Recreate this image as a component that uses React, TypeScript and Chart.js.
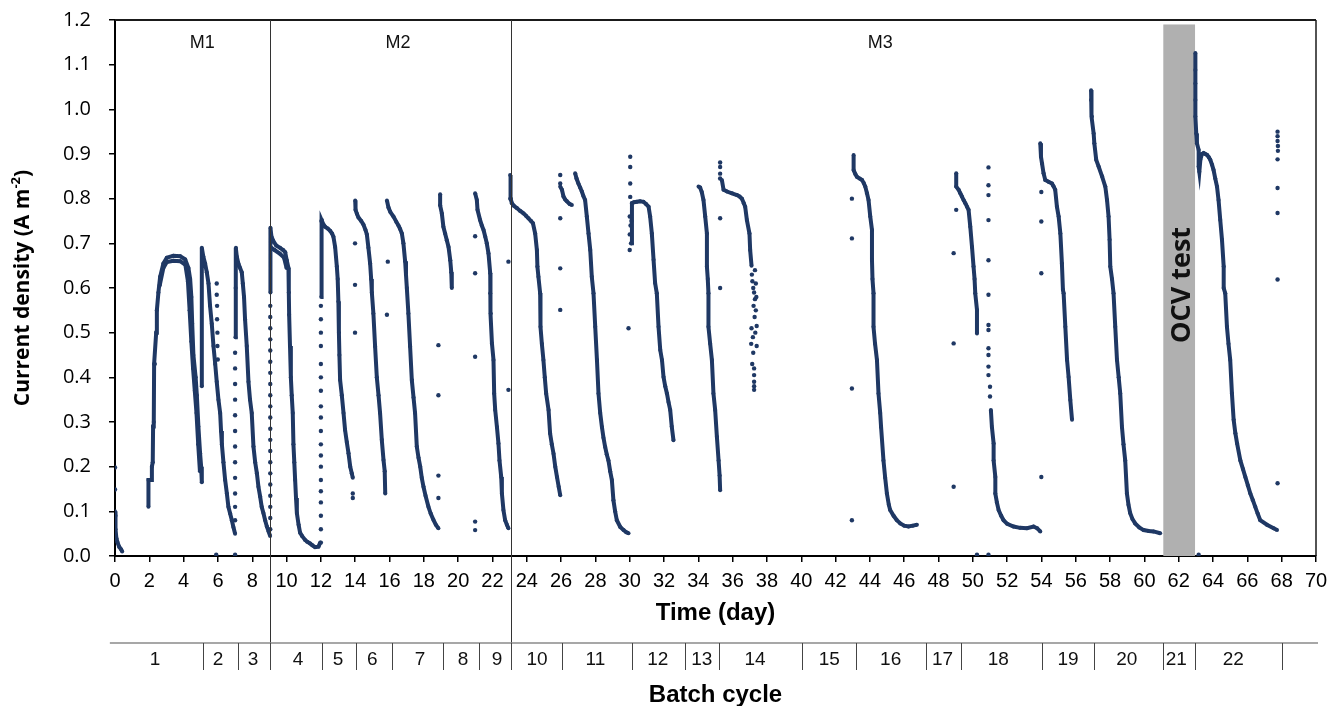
import React, { useEffect, useRef } from 'react';
import { Chart, registerables } from 'chart.js';

Chart.register(...registerables);

type P = [number, number];

// ---------- axis / annotation values ----------
const xMin = 0;
const xMax = 70;
const xStep = 2;
const yMin = 0;
const yMax = 1.2;
const yStep = 0.1;

const phaseLines = [9.05, 23.1];
const phaseLabels = ['M1', 'M2', 'M3'];
const phaseLabelPos = [5.08, 16.5, 44.6];

const ocvRange = [61.1, 62.95];
const ocvTop = 1.19;
const ocvText = 'OCV test';

const batchBounds = [5.14, 7.15, 9.05, 12.07, 14.06, 16.15, 19.13, 21.2, 23.1, 26.04, 30.13, 33.22, 35.22, 40.07, 43.19, 47.25, 49.3, 54.03, 57.08, 61.06, 62.95, 68.02];
const batchLabels = ['1', '2', '3', '4', '5', '6', '7', '8', '9', '10', '11', '12', '13', '14', '15', '16', '17', '18', '19', '20', '21', '22'];
const batchLabelPos = [2.34, 6.01, 8.05, 10.67, 13.0, 14.99, 17.78, 20.29, 22.27, 24.6, 28.0, 31.64, 34.2, 37.3, 41.63, 45.21, 48.23, 51.48, 55.55, 58.97, 61.86, 65.18];

const xTitle = 'Time (day)';
const batchTitle = 'Batch cycle';
const yTitleMain = 'Current density (A m';
const yTitleSup = '-2';
const yTitleEnd = ')';

// ---------- current density traces (day, A m-2) ----------
const cycle00: P[] = [[0.0, 0.1], [0.03, 0.06], [0.08, 0.04], [0.15, 0.03], [0.25, 0.02], [0.35, 0.015], [0.42, 0.01]];
const cycle00Dots: P[] = [[0.0, 0.198], [0.0, 0.149], [0.02, 0.09]];

const cycle01: P[] = [[1.95, 0.11], [1.95, 0.17], [2.1, 0.17], [2.15, 0.2], [2.2, 0.21], [2.22, 0.29], [2.26, 0.3], [2.28, 0.43], [2.33, 0.43], [2.4, 0.5], [2.44, 0.55], [2.53, 0.59], [2.63, 0.625], [2.82, 0.655], [3.02, 0.668], [3.4, 0.672], [3.8, 0.671], [4.09, 0.664], [4.28, 0.645], [4.38, 0.62], [4.45, 0.58], [4.5, 0.52], [4.57, 0.45], [4.7, 0.4], [4.77, 0.36], [4.86, 0.29], [4.96, 0.23], [5.02, 0.2], [5.06, 0.165]];
const cycle01b: P[] = [[2.6, 0.605], [2.82, 0.645], [3.02, 0.658], [3.4, 0.661], [3.8, 0.66], [4.1, 0.652], [4.25, 0.615], [4.35, 0.55], [4.45, 0.48], [4.55, 0.42], [4.65, 0.37], [4.75, 0.32], [4.85, 0.25], [4.95, 0.19]];

const cycle02: P[] = [[5.06, 0.38], [5.06, 0.69], [5.15, 0.67], [5.25, 0.655], [5.35, 0.635], [5.45, 0.61], [5.54, 0.56], [5.64, 0.52], [5.74, 0.47], [5.84, 0.43], [5.93, 0.39], [6.03, 0.35], [6.13, 0.32], [6.18, 0.28], [6.23, 0.25], [6.32, 0.21], [6.42, 0.17], [6.52, 0.14], [6.61, 0.11], [6.71, 0.095], [6.81, 0.08], [6.9, 0.065], [7.0, 0.05]];
const cycle02Dots: P[] = [[5.93, 0.61], [5.93, 0.585], [5.95, 0.56], [5.95, 0.53], [5.97, 0.5], [5.97, 0.47], [5.99, 0.44], [5.9, 0.003], [7.0, 0.003]];

const cycle03Dots: P[] = [[7.0, 0.08], [7.0, 0.11], [7.0, 0.14], [7.0, 0.175], [7.0, 0.21], [7.0, 0.245], [7.0, 0.28], [7.0, 0.315], [7.0, 0.35], [7.0, 0.385], [7.0, 0.42], [7.0, 0.455]];
const cycle03: P[] = [[7.02, 0.49], [7.03, 0.6], [7.05, 0.69], [7.1, 0.67], [7.19, 0.655], [7.29, 0.645], [7.39, 0.635], [7.45, 0.61], [7.52, 0.58], [7.58, 0.53], [7.68, 0.47], [7.78, 0.39], [7.87, 0.35], [7.97, 0.32], [8.07, 0.245], [8.17, 0.21], [8.27, 0.185], [8.36, 0.155], [8.46, 0.133], [8.55, 0.11], [8.65, 0.096], [8.75, 0.08], [8.85, 0.066], [8.95, 0.055], [9.04, 0.045]];

const cycle04Dots: P[] = [[9.05, 0.06], [9.05, 0.085], [9.05, 0.11], [9.05, 0.135], [9.05, 0.16], [9.05, 0.185], [9.05, 0.21], [9.05, 0.235], [9.05, 0.26], [9.05, 0.285], [9.05, 0.31], [9.05, 0.335], [9.05, 0.36], [9.05, 0.385], [9.05, 0.41], [9.05, 0.435], [9.05, 0.46], [9.05, 0.485], [9.05, 0.51], [9.05, 0.535], [9.05, 0.56]];
const cycle04: P[] = [[9.06, 0.59], [9.06, 0.735], [9.12, 0.715], [9.23, 0.705], [9.4, 0.695], [9.62, 0.69], [9.8, 0.685], [9.92, 0.68], [10.01, 0.662], [10.11, 0.645], [10.13, 0.59], [10.15, 0.54], [10.2, 0.47], [10.25, 0.4], [10.3, 0.36], [10.36, 0.32], [10.4, 0.25], [10.45, 0.21], [10.5, 0.17], [10.55, 0.13], [10.6, 0.096], [10.7, 0.07], [10.79, 0.052], [10.9, 0.045], [11.08, 0.036], [11.2, 0.032], [11.37, 0.028], [11.5, 0.024], [11.66, 0.02], [11.86, 0.021], [11.96, 0.03]];
const cycle04b: P[] = [[9.1, 0.69], [9.3, 0.685], [9.6, 0.677], [9.85, 0.668], [10.0, 0.645]];

const cycle05Dots: P[] = [[12.0, 0.03], [12.0, 0.06], [12.0, 0.09], [12.0, 0.12], [12.0, 0.145], [12.0, 0.17], [12.0, 0.2], [12.0, 0.225], [12.0, 0.25], [12.0, 0.28], [12.0, 0.31], [12.0, 0.335], [12.0, 0.37], [12.0, 0.4], [12.0, 0.43], [12.0, 0.47], [12.0, 0.5], [12.0, 0.53], [12.0, 0.56], [13.86, 0.14], [13.86, 0.13]];
const cycle05: P[] = [[12.02, 0.58], [12.02, 0.75], [12.06, 0.752], [12.15, 0.742], [12.25, 0.737], [12.4, 0.733], [12.54, 0.728], [12.65, 0.722], [12.73, 0.715], [12.83, 0.692], [12.93, 0.648], [12.98, 0.62], [13.02, 0.57], [13.05, 0.5], [13.08, 0.45], [13.12, 0.394], [13.22, 0.36], [13.32, 0.32], [13.41, 0.282], [13.51, 0.255], [13.61, 0.23], [13.71, 0.2], [13.8, 0.185], [13.86, 0.175]];

const cycle06Dots: P[] = [[13.99, 0.7], [13.99, 0.607], [13.99, 0.5], [15.85, 0.54]];
const cycle06: P[] = [[14.0, 0.796], [14.02, 0.775], [14.1, 0.766], [14.19, 0.758], [14.35, 0.75], [14.48, 0.742], [14.6, 0.73], [14.68, 0.72], [14.77, 0.69], [14.87, 0.655], [14.93, 0.62], [14.97, 0.59], [15.06, 0.543], [15.16, 0.469], [15.26, 0.4], [15.36, 0.36], [15.45, 0.32], [15.55, 0.26], [15.65, 0.215], [15.72, 0.19], [15.75, 0.14]];

const cycle07Dots: P[] = [[15.9, 0.659]];
const cycle07: P[] = [[15.85, 0.796], [15.94, 0.78], [16.05, 0.77], [16.23, 0.76], [16.4, 0.748], [16.52, 0.74], [16.62, 0.732], [16.72, 0.722], [16.81, 0.7], [16.91, 0.66], [16.96, 0.63], [17.01, 0.6], [17.1, 0.543], [17.2, 0.469], [17.3, 0.394], [17.4, 0.355], [17.49, 0.32], [17.59, 0.245], [17.69, 0.22], [17.79, 0.2], [17.88, 0.175], [17.98, 0.155], [18.1, 0.135], [18.27, 0.11], [18.4, 0.095], [18.56, 0.081], [18.7, 0.07], [18.85, 0.062]];

const cycle08Dots: P[] = [[18.85, 0.472], [18.85, 0.36], [18.85, 0.18], [18.85, 0.13]];
const cycle08: P[] = [[18.95, 0.81], [18.95, 0.785], [19.05, 0.767], [19.14, 0.737], [19.24, 0.722], [19.34, 0.707], [19.44, 0.692], [19.54, 0.662], [19.6, 0.635], [19.63, 0.6]];

const cycle09Dots: P[] = [[20.99, 0.716], [20.99, 0.633], [20.99, 0.446], [20.99, 0.077], [20.99, 0.058], [22.93, 0.659], [22.93, 0.372]];
const cycle09: P[] = [[20.99, 0.812], [21.09, 0.797], [21.13, 0.775], [21.28, 0.752], [21.38, 0.74], [21.48, 0.73], [21.58, 0.715], [21.67, 0.7], [21.77, 0.677], [21.87, 0.633], [21.87, 0.588], [21.9, 0.543], [21.97, 0.476], [22.06, 0.439], [22.1, 0.364], [22.16, 0.327], [22.26, 0.289], [22.35, 0.252], [22.41, 0.214], [22.51, 0.177], [22.55, 0.14], [22.64, 0.103], [22.74, 0.08], [22.84, 0.07], [22.93, 0.062]];

const cycle10: P[] = [[23.03, 0.8], [23.03, 0.853], [23.08, 0.8], [23.13, 0.79], [23.25, 0.784], [23.42, 0.779], [23.6, 0.773], [23.81, 0.767], [23.95, 0.762], [24.1, 0.756], [24.25, 0.75], [24.36, 0.745], [24.49, 0.722], [24.59, 0.685], [24.62, 0.648], [24.68, 0.625], [24.78, 0.588], [24.8, 0.513], [24.88, 0.475], [24.97, 0.439], [25.05, 0.4], [25.13, 0.364], [25.27, 0.327], [25.36, 0.274], [25.46, 0.25], [25.56, 0.229], [25.66, 0.2], [25.76, 0.177], [25.86, 0.155], [25.95, 0.136]];

const cycle11Dots: P[] = [[25.95, 0.853], [25.95, 0.834], [25.95, 0.756], [25.95, 0.644], [25.95, 0.551]];
const cycle11a: P[] = [[25.95, 0.827], [26.05, 0.82], [26.14, 0.805], [26.24, 0.798], [26.34, 0.794], [26.5, 0.788], [26.63, 0.786]];
const cycle11: P[] = [[26.82, 0.857], [26.9, 0.845], [27.01, 0.834], [27.11, 0.825], [27.21, 0.816], [27.3, 0.806], [27.4, 0.797], [27.5, 0.76], [27.6, 0.722], [27.7, 0.685], [27.79, 0.625], [27.89, 0.588], [27.99, 0.513], [28.09, 0.439], [28.18, 0.364], [28.28, 0.32], [28.38, 0.289], [28.47, 0.265], [28.57, 0.244], [28.66, 0.228], [28.76, 0.214], [28.86, 0.19], [28.96, 0.17], [29.05, 0.125], [29.15, 0.1], [29.25, 0.08], [29.45, 0.065], [29.64, 0.058], [29.8, 0.053], [29.93, 0.051]];

const cycle12Dots: P[] = [[30.03, 0.894], [30.03, 0.871], [30.03, 0.834], [30.03, 0.804], [29.93, 0.51], [30.0, 0.76], [30.05, 0.74], [30.0, 0.72], [30.08, 0.7], [30.0, 0.685], [30.1, 0.75]];
const cycle12: P[] = [[30.1, 0.7], [30.13, 0.79], [30.25, 0.792], [30.42, 0.793], [30.6, 0.794], [30.8, 0.793], [30.95, 0.788], [31.1, 0.782], [31.19, 0.76], [31.29, 0.722], [31.39, 0.663], [31.48, 0.611], [31.58, 0.588], [31.68, 0.513], [31.78, 0.461], [31.88, 0.439], [31.97, 0.401], [32.07, 0.38], [32.17, 0.364], [32.26, 0.345], [32.36, 0.327], [32.45, 0.29], [32.55, 0.259]];

const cycle13: P[] = [[34.01, 0.827], [34.1, 0.825], [34.2, 0.815], [34.3, 0.797], [34.4, 0.76], [34.5, 0.722], [34.5, 0.648], [34.55, 0.62], [34.59, 0.588], [34.59, 0.513], [34.69, 0.475], [34.79, 0.439], [34.88, 0.364], [34.98, 0.327], [35.08, 0.267], [35.18, 0.214], [35.24, 0.18], [35.27, 0.147]];

const cycle14Dots: P[] = [[35.27, 0.881], [35.27, 0.871], [35.27, 0.856], [35.27, 0.845], [35.27, 0.756], [35.27, 0.6], [37.12, 0.63], [37.15, 0.615], [37.2, 0.6], [37.25, 0.59], [37.3, 0.575], [37.22, 0.56], [37.35, 0.55], [37.28, 0.535], [37.4, 0.515], [37.32, 0.5], [37.18, 0.49], [37.4, 0.47], [37.2, 0.455], [37.08, 0.475], [37.14, 0.43], [37.25, 0.42], [37.25, 0.405], [37.25, 0.39], [37.25, 0.38], [37.25, 0.372], [37.1, 0.51], [37.35, 0.61], [37.38, 0.58], [37.3, 0.64]];
const cycle14: P[] = [[35.37, 0.842], [35.47, 0.82], [35.67, 0.816], [35.96, 0.812], [36.25, 0.808], [36.4, 0.805], [36.54, 0.8], [36.65, 0.79], [36.73, 0.782], [36.83, 0.752], [36.98, 0.722], [37.02, 0.685], [37.1, 0.65]];

const cycle16Dots: P[] = [[42.95, 0.8], [42.95, 0.711], [42.95, 0.375], [42.95, 0.08]];
const cycle16: P[] = [[43.05, 0.898], [43.05, 0.864], [43.15, 0.855], [43.24, 0.849], [43.4, 0.845], [43.54, 0.842], [43.64, 0.835], [43.73, 0.827], [43.83, 0.812], [43.92, 0.797], [44.02, 0.76], [44.12, 0.73], [44.12, 0.663], [44.15, 0.62], [44.21, 0.588], [44.21, 0.513], [44.3, 0.475], [44.41, 0.439], [44.5, 0.364], [44.6, 0.32], [44.65, 0.289], [44.79, 0.214], [44.89, 0.175], [44.99, 0.14], [45.1, 0.115], [45.18, 0.103], [45.38, 0.09], [45.57, 0.08], [45.77, 0.073], [46.0, 0.068], [46.25, 0.066], [46.5, 0.068], [46.74, 0.07]];

const cycle17Dots: P[] = [[48.88, 0.678], [48.88, 0.476], [48.88, 0.155]];

const cycle18: P[] = [[49.03, 0.857], [49.03, 0.827], [49.17, 0.82], [49.27, 0.812], [49.36, 0.805], [49.46, 0.797], [49.56, 0.79], [49.66, 0.782], [49.75, 0.775], [49.85, 0.737], [49.95, 0.692], [50.04, 0.648], [50.1, 0.62], [50.14, 0.588], [50.24, 0.551], [50.24, 0.498]];
const cycle18Dots: P[] = [[49.03, 0.775], [50.24, 0.003], [50.91, 0.003], [50.91, 0.87], [50.91, 0.83], [50.91, 0.808], [50.91, 0.752], [50.91, 0.662], [50.91, 0.585], [50.91, 0.517], [50.91, 0.506], [50.91, 0.465], [50.91, 0.45], [50.91, 0.424], [50.91, 0.405], [51.0, 0.379], [51.0, 0.357]];
const cycle18b: P[] = [[51.05, 0.327], [51.11, 0.289], [51.21, 0.252], [51.21, 0.214], [51.31, 0.177], [51.31, 0.14], [51.4, 0.12], [51.5, 0.103], [51.65, 0.09], [51.79, 0.08], [52.0, 0.072], [52.37, 0.066], [52.75, 0.063], [53.15, 0.062], [53.54, 0.066], [53.75, 0.062], [53.93, 0.055]];

const cycle19Dots: P[] = [[53.99, 0.815], [53.99, 0.749], [53.99, 0.633], [53.99, 0.177]];
const cycle19: P[] = [[53.93, 0.924], [53.97, 0.894], [54.03, 0.879], [54.12, 0.857], [54.22, 0.842], [54.41, 0.838], [54.61, 0.834], [54.7, 0.828], [54.8, 0.82], [54.9, 0.782], [55.0, 0.76], [55.1, 0.722], [55.19, 0.655], [55.25, 0.596], [55.29, 0.588], [55.39, 0.513], [55.49, 0.439], [55.58, 0.401], [55.68, 0.349], [55.78, 0.305]];

const cycle20: P[] = [[56.89, 1.043], [56.89, 1.021], [56.94, 0.984], [57.04, 0.946], [57.08, 0.924], [57.19, 0.887], [57.33, 0.872], [57.53, 0.85], [57.72, 0.827], [57.82, 0.797], [57.91, 0.76], [57.97, 0.708], [58.01, 0.648], [58.11, 0.62], [58.2, 0.588], [58.3, 0.513], [58.4, 0.439], [58.5, 0.4], [58.59, 0.364], [58.69, 0.289], [58.78, 0.25], [58.88, 0.214], [58.98, 0.14], [59.07, 0.115], [59.17, 0.096], [59.3, 0.083], [59.46, 0.073], [59.7, 0.064], [59.95, 0.058], [60.25, 0.056], [60.53, 0.055], [60.92, 0.051]];

const cycle22Dots: P[] = [[63.16, 0.003], [67.76, 0.95], [67.76, 0.94], [67.76, 0.929], [67.78, 0.918], [67.78, 0.907], [67.76, 0.888], [67.76, 0.824], [67.76, 0.768], [67.76, 0.619], [67.76, 0.163]];
const cycle22: P[] = [[62.97, 1.126], [62.97, 1.088], [62.97, 1.058], [62.97, 1.021], [62.97, 0.984], [63.02, 0.946], [63.06, 0.924], [63.16, 0.909], [63.16, 0.872], [63.2, 0.86], [63.26, 0.887], [63.35, 0.9], [63.45, 0.902], [63.55, 0.9], [63.65, 0.898], [63.75, 0.893], [63.84, 0.887], [63.94, 0.876], [64.03, 0.864], [64.13, 0.845], [64.23, 0.827], [64.32, 0.797], [64.42, 0.752], [64.52, 0.708], [64.62, 0.648], [64.62, 0.6], [64.71, 0.588], [64.81, 0.513], [64.9, 0.475], [65.0, 0.439], [65.1, 0.364], [65.2, 0.305], [65.3, 0.275], [65.4, 0.252], [65.59, 0.214], [65.74, 0.195], [65.88, 0.177], [66.03, 0.158], [66.17, 0.14], [66.32, 0.125], [66.46, 0.11], [66.6, 0.095], [66.75, 0.08], [67.14, 0.07], [67.53, 0.062], [67.73, 0.058]];

const denseTraces: P[][] = [cycle00, cycle01, cycle01b, cycle02, cycle03, cycle04, cycle04b, cycle05, cycle06, cycle07, cycle08, cycle09, cycle10, cycle11a, cycle11, cycle12, cycle13, cycle14, cycle16, cycle18, cycle18b, cycle19, cycle20, cycle22];
const dotSets: P[][] = [cycle00Dots, cycle02Dots, cycle03Dots, cycle04Dots, cycle05Dots, cycle06Dots, cycle07Dots, cycle08Dots, cycle09Dots, cycle11Dots, cycle12Dots, cycle14Dots, cycle16Dots, cycle17Dots, cycle18Dots, cycle19Dots, cycle22Dots];

const NAVY = '#1f3864';
const SANS = "'Liberation Sans', Arial, sans-serif";
const OPEN = "'Open Sans', 'Liberation Sans', sans-serif";

const decorPlugin = {
  id: 'decor',
  beforeDatasetsDraw(chart: any) {
    const { ctx, scales } = chart;
    const x = scales.x;
    const y = scales.y;
    ctx.save();
    ctx.fillStyle = '#b0b0b0';
    const x0 = x.getPixelForValue(ocvRange[0]);
    const x1 = x.getPixelForValue(ocvRange[1]);
    const yt = y.getPixelForValue(ocvTop);
    const yb = y.getPixelForValue(0);
    ctx.fillRect(x0, yt, x1 - x0, yb - yt);
    ctx.restore();
  },
  afterDatasetsDraw(chart: any) {
    const { ctx, scales, chartArea } = chart;
    const x = scales.x;
    ctx.save();

    // frame top & right
    ctx.strokeStyle = '#1a1a1a';
    ctx.lineWidth = 2;
    ctx.beginPath();
    ctx.moveTo(chartArea.left, chartArea.top);
    ctx.lineTo(chartArea.right, chartArea.top);
    ctx.stroke();
    ctx.lineWidth = 1.5;
    ctx.beginPath();
    ctx.moveTo(chartArea.right, chartArea.top);
    ctx.lineTo(chartArea.right, chartArea.bottom);
    ctx.stroke();

    // OCV label
    const ocx = (x.getPixelForValue(ocvRange[0]) + x.getPixelForValue(ocvRange[1])) / 2 + 3;
    ctx.save();
    ctx.translate(ocx, 285);
    ctx.rotate(-Math.PI / 2);
    ctx.fillStyle = '#111';
    ctx.font = `bold 27px ${OPEN}`;
    ctx.textAlign = 'center';
    ctx.textBaseline = 'middle';
    ctx.fillText(ocvText, 0, 0);
    ctx.restore();

    // phase separator lines
    const batchY = 643;
    const sepBottom = 670;
    ctx.strokeStyle = '#333';
    ctx.lineWidth = 1;
    phaseLines.forEach((d) => {
      const px = Math.round(x.getPixelForValue(d)) + 0.5;
      ctx.beginPath();
      ctx.moveTo(px, chartArea.top);
      ctx.lineTo(px, sepBottom);
      ctx.stroke();
    });

    // phase labels
    ctx.fillStyle = '#111';
    ctx.font = `18px ${SANS}`;
    ctx.textAlign = 'center';
    ctx.textBaseline = 'middle';
    phaseLabels.forEach((t, i) => {
      ctx.fillText(t, x.getPixelForValue(phaseLabelPos[i]), 43);
    });

    // batch cycle axis
    ctx.strokeStyle = '#8a8a8a';
    ctx.lineWidth = 1.5;
    ctx.beginPath();
    ctx.moveTo(x.getPixelForValue(-0.3), batchY);
    ctx.lineTo(chartArea.right + 2, batchY);
    ctx.stroke();
    ctx.strokeStyle = '#444';
    ctx.lineWidth = 1;
    batchBounds.forEach((d) => {
      const px = Math.round(x.getPixelForValue(d)) + 0.5;
      ctx.beginPath();
      ctx.moveTo(px, batchY);
      ctx.lineTo(px, sepBottom);
      ctx.stroke();
    });
    ctx.fillStyle = '#111';
    ctx.font = `19px ${SANS}`;
    batchLabels.forEach((t, i) => {
      ctx.fillText(t, x.getPixelForValue(batchLabelPos[i]), 660);
    });

    // axis titles
    const cx = (chartArea.left + chartArea.right) / 2;
    ctx.font = `bold 24px ${SANS}`;
    ctx.fillStyle = '#000';
    ctx.fillText(xTitle, cx, 613);
    ctx.fillText(batchTitle, cx, 695);

    // y title with superscript
    ctx.save();
    ctx.translate(23, (chartArea.top + chartArea.bottom) / 2);
    ctx.rotate(-Math.PI / 2);
    ctx.textAlign = 'left';
    ctx.textBaseline = 'middle';
    const f1 = `bold 21px ${OPEN}`;
    const f2 = `bold 13px ${OPEN}`;
    ctx.font = f1;
    const w1 = ctx.measureText(yTitleMain).width;
    const w3 = ctx.measureText(yTitleEnd).width;
    ctx.font = f2;
    const w2 = ctx.measureText(yTitleSup).width;
    let tx = -(w1 + w2 + w3) / 2;
    ctx.font = f1;
    ctx.fillText(yTitleMain, tx, 0);
    tx += w1;
    ctx.font = f2;
    ctx.fillText(yTitleSup, tx, -7);
    tx += w2;
    ctx.font = f1;
    ctx.fillText(yTitleEnd, tx, 0);
    ctx.restore();

    ctx.restore();
  },
};

export default function App() {
  const ref = useRef<HTMLCanvasElement | null>(null);

  useEffect(() => {
    if (!ref.current) return;
    Chart.defaults.font.family = SANS;
    const datasets: any[] = [];
    denseTraces.forEach((tr) => {
      datasets.push({
        data: tr.map(([a, b]) => ({ x: a, y: b })),
        showLine: true,
        borderColor: NAVY,
        borderWidth: 4,
        backgroundColor: NAVY,
        pointRadius: 2,
        pointBorderWidth: 0,
        pointBackgroundColor: NAVY,
        tension: 0,
      });
    });
    dotSets.forEach((ds) => {
      datasets.push({
        data: ds.map(([a, b]) => ({ x: a, y: b })),
        showLine: false,
        backgroundColor: NAVY,
        borderColor: NAVY,
        pointRadius: 2.2,
        pointBorderWidth: 0,
        pointBackgroundColor: NAVY,
      });
    });

    const chart = new Chart(ref.current, {
      type: 'scatter',
      data: { datasets },
      plugins: [decorPlugin],
      options: {
        responsive: false,
        animation: false,
        devicePixelRatio: 1,
        layout: { padding: { left: 0, top: 20, right: 12, bottom: 0 } },
        plugins: { legend: { display: false }, tooltip: { enabled: false } },
        scales: {
          x: {
            type: 'linear',
            min: xMin,
            max: xMax,
            afterFit: (s: any) => {
              s.height = 150;
              s.paddingLeft = 0;
              s.paddingRight = 0;
            },
            ticks: {
              stepSize: xStep,
              autoSkip: false,
              maxRotation: 0,
              minRotation: 0,
              padding: 7,
              color: '#000',
              font: { size: 20, family: SANS },
              callback: (v: any) => String(Math.round(Number(v))),
            },
            grid: { drawOnChartArea: false, drawTicks: true, tickLength: 6, color: '#000', lineWidth: 1.5 },
            border: { display: true, color: '#000', width: 2 },
          },
          y: {
            type: 'linear',
            min: yMin,
            max: yMax,
            afterFit: (s: any) => {
              s.width = 115;
              s.paddingTop = 0;
              s.paddingBottom = 0;
            },
            ticks: {
              stepSize: yStep,
              padding: 18,
              color: '#000',
              font: { size: 20, family: OPEN },
              callback: (v: any) => Number(v).toFixed(1),
            },
            grid: { drawOnChartArea: false, drawTicks: true, tickLength: 6, color: '#000', lineWidth: 1.5 },
            border: { display: true, color: '#000', width: 2 },
          },
        },
      } as any,
    });
    return () => chart.destroy();
  }, []);

  return (
    <div style={{ position: 'absolute', left: 0, top: 0, width: 1328, height: 706, background: '#fff' }}>
      <canvas ref={ref} width={1328} height={706} style={{ width: 1328, height: 706, display: 'block' }} />
    </div>
  );
}
